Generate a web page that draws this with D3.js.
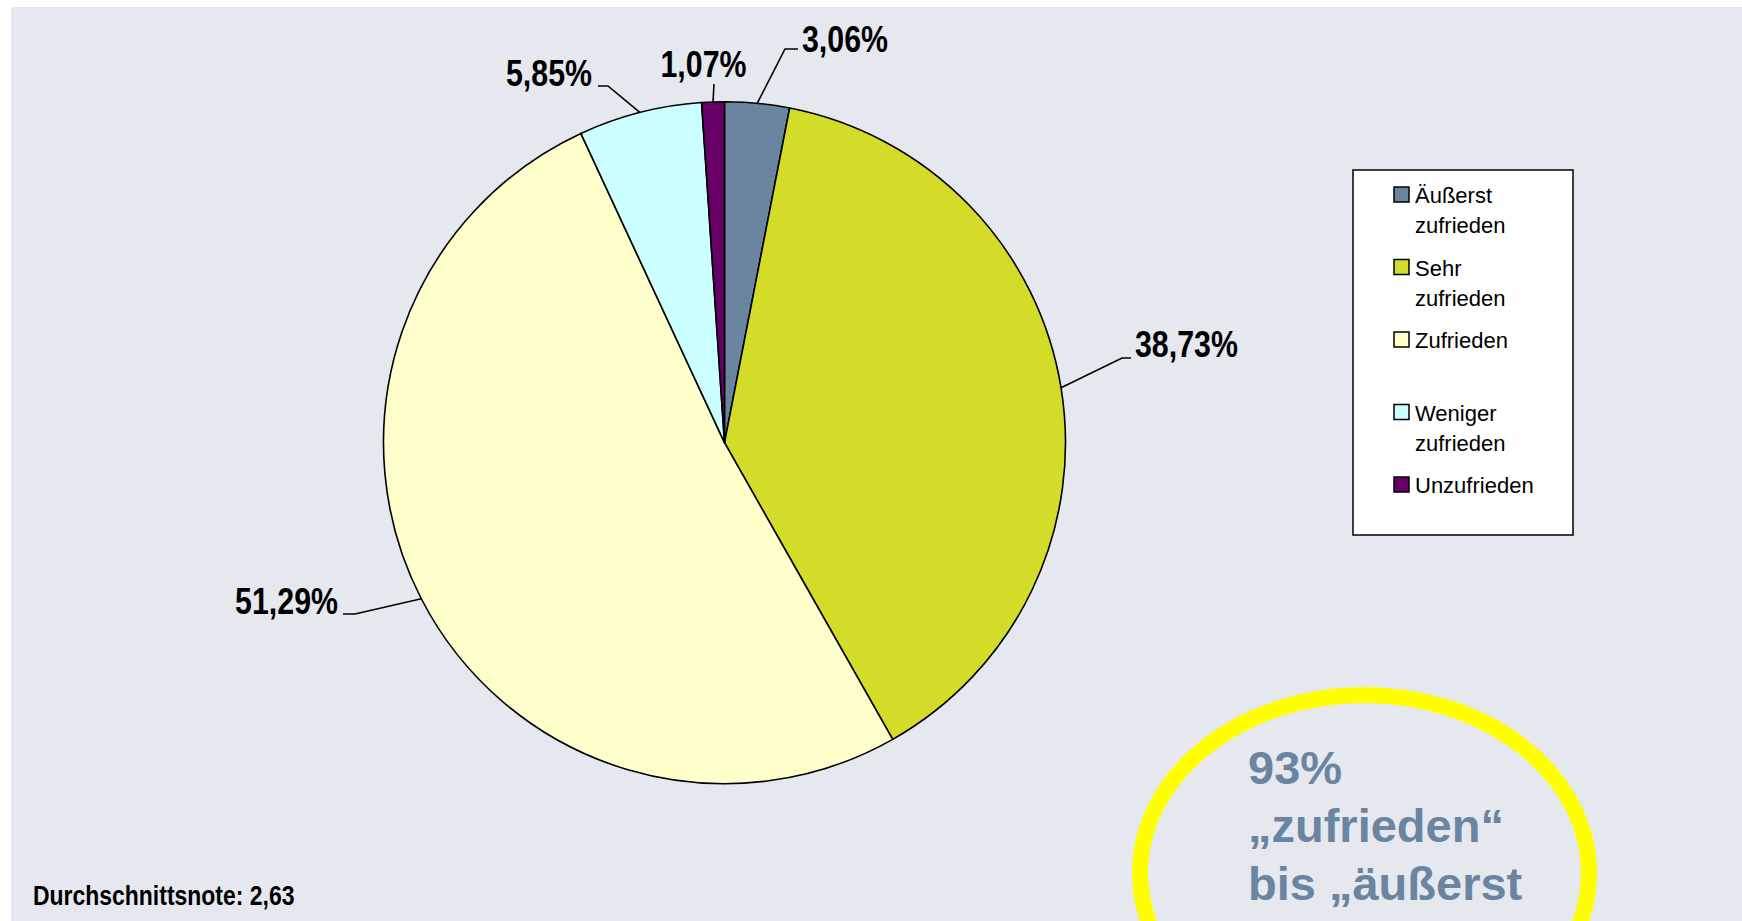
<!DOCTYPE html>
<html>
<head>
<meta charset="utf-8">
<script src="https://cdn.jsdelivr.net/npm/d3@7"></script>
<style>
  body { margin: 0; background: #fff; }
  svg { display: block; }
  .narrow { font-family: "Liberation Sans", Arial, sans-serif; font-weight: bold; }
</style>
</head>
<body>
<div id="main"></div>
<script>
// data
var categories = ["Äußerst zufrieden", "Sehr zufrieden", "Zufrieden", "Weniger zufrieden", "Unzufrieden"];
var legendLines = [["Äußerst", "zufrieden"], ["Sehr", "zufrieden"], ["Zufrieden"], ["Weniger", "zufrieden"], ["Unzufrieden"]];
var shares = [3.06, 38.73, 51.29, 5.85, 1.07];
var colors = ["#6b84a0", "#d4dc2a", "#ffffcc", "#ccffff", "#660066"];
var averageGrade = 2.63;
var calloutLines = ["93%", "„zufrieden“", "bis „äußerst"];

var ctx = {
    w: 1742,
    h: 921,
    cx: 724.5,
    cy: 442.7,
    r: 341,
    squeeze: 0.82, // no Arial Narrow installed, so squash the bold font
};

// label leader layout, relative to pie centre
var labelLayout = [
    { elbow: [60.5, -393.7], tail: 73.5, text: [77.5, -390.7], anchor: "start" },
    { elbow: [397.5, -84.7], tail: 406.5, text: [410.5, -85.7], anchor: "start" },
    { elbow: [-369.5, 171.3], tail: -381.5, text: [-386.5, 171.3], anchor: "end" },
    { elbow: [-116.5, -356.7], tail: -126.5, text: [-132.5, -356.7], anchor: "end" },
    { elbow: [-10.5, -358.7], tail: -10.5, text: [-21, -365.7], anchor: "middle" },
];

var de = d3.formatLocale({ decimal: ",", thousands: ".", grouping: [3], currency: ["", "€"] });
var fmt = de.format(".2f");

function narrowText(parent, x, y, anchor, size, str) {
    return parent.append("g")
        .attr("transform", "translate(" + x + "," + y + ") scale(" + ctx.squeeze + ",1)")
        .append("text")
        .attr("class", "narrow")
        .attr("text-anchor", anchor)
        .attr("font-size", size)
        .attr("fill", "#000")
        .text(str);
}

var svg = d3.select("#main").append("svg")
    .attr("width", ctx.w)
    .attr("height", ctx.h);

svg.append("rect")
    .attr("x", 11).attr("y", 7)
    .attr("width", ctx.w - 11).attr("height", ctx.h - 7)
    .attr("fill", "#e5e8ee");

var pie = d3.pie().sort(null).value(function (d) { return d; });
var arcs = pie(shares);
var arc = d3.arc().innerRadius(0).outerRadius(ctx.r);

var g = svg.append("g").attr("transform", "translate(" + ctx.cx + "," + ctx.cy + ")");

g.selectAll("path.slice")
    .data(arcs)
    .enter()
    .append("path")
    .attr("class", "slice")
    .attr("d", arc)
    .attr("fill", function (d, i) { return colors[i]; })
    .attr("stroke", "#000")
    .attr("stroke-width", 1.6)
    .attr("stroke-linejoin", "round");

// leader lines + labels
arcs.forEach(function (d, i) {
    var mid = (d.startAngle + d.endAngle) / 2;
    var p = [ctx.r * Math.sin(mid), -ctx.r * Math.cos(mid)];
    var L = labelLayout[i];
    g.append("polyline")
        .attr("points", [p, L.elbow, [L.tail, L.elbow[1]]].map(function (q) { return q.join(","); }).join(" "))
        .attr("fill", "none")
        .attr("stroke", "#000")
        .attr("stroke-width", 1.6);
    narrowText(g, L.text[0], L.text[1], L.anchor, 37, fmt(d.data) + "%");
});

// legend
var legend = svg.append("g").attr("transform", "translate(1353,170)");
legend.append("rect")
    .attr("width", 220).attr("height", 365)
    .attr("fill", "#fff")
    .attr("stroke", "#000")
    .attr("stroke-width", 1.5);

var ly = d3.scalePoint().domain(categories).range([17, 307]);

var items = legend.selectAll("g.item")
    .data(categories)
    .enter()
    .append("g")
    .attr("class", "item")
    .attr("transform", function (d) { return "translate(41," + ly(d) + ")"; });

items.append("rect")
    .attr("width", 15).attr("height", 15)
    .attr("fill", function (d, i) { return colors[i]; })
    .attr("stroke", "#000")
    .attr("stroke-width", 1.5);

items.append("text")
    .attr("font-family", "'Liberation Sans', Arial, sans-serif")
    .attr("font-size", 22)
    .attr("fill", "#000")
    .selectAll("tspan")
    .data(function (d, i) { return legendLines[i]; })
    .enter()
    .append("tspan")
    .attr("x", 21)
    .attr("y", function (d, j) { return 16 + j * 30; })
    .text(function (d) { return d; });

// average note
narrowText(svg, 33, 905, "start", 28, "Durchschnittsnote: " + fmt(averageGrade));

// callout ellipse
svg.append("ellipse")
    .attr("cx", 1364.5).attr("cy", 873)
    .attr("rx", 224.5).attr("ry", 178)
    .attr("fill", "none")
    .attr("stroke", "#ffff00")
    .attr("stroke-width", 16);

svg.append("text")
    .attr("font-family", "'Liberation Sans', Arial, sans-serif")
    .attr("font-weight", "bold")
    .attr("font-size", 47)
    .attr("fill", colors[0])
    .selectAll("tspan")
    .data(calloutLines)
    .enter()
    .append("tspan")
    .attr("x", 1248)
    .attr("y", function (d, i) { return 784 + i * 58; })
    .text(function (d) { return d; });
</script>
</body>
</html>
